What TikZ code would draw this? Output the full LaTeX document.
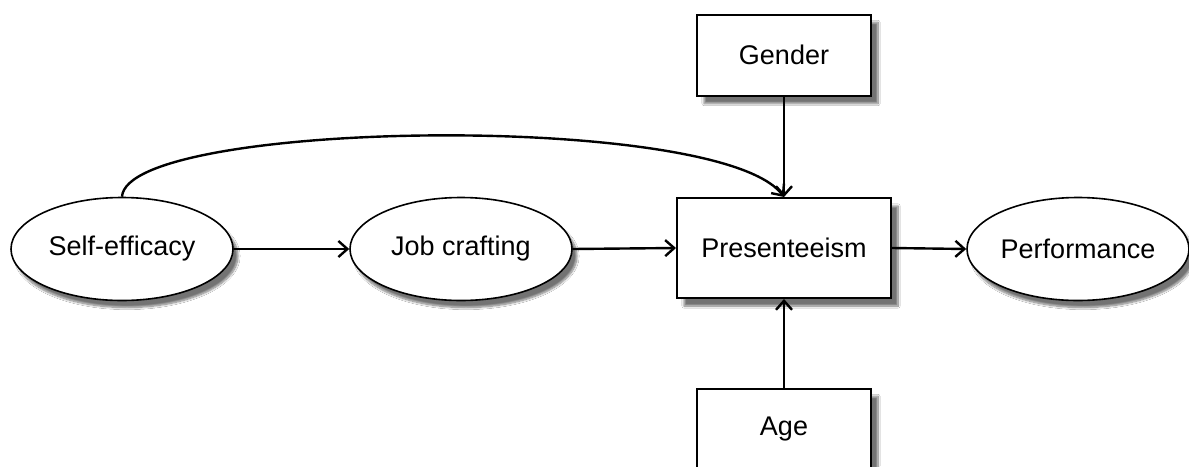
\documentclass[tikz,border=0pt]{standalone}
\usepackage{fontspec}
\setmainfont{Liberation Sans}
\usetikzlibrary{arrows.meta,shadows.blur,shapes.geometric}
\tikzset{
  lbl/.style={font=\fontsize{27}{32}\selectfont},
  ell/.style={lbl,ellipse,draw,line width=1.6pt,fill=white,minimum width=222pt,minimum height=103pt,inner sep=0pt,
    blur shadow={shadow blur steps=10,shadow xshift=5pt,shadow yshift=-7pt,shadow opacity=55}},
  box/.style={lbl,rectangle,draw,line width=2pt,fill=white,minimum width=174pt,minimum height=81pt,inner sep=0pt,
    blur shadow={shadow blur steps=10,shadow xshift=7pt,shadow yshift=-8pt,shadow opacity=55}},
  conn/.style={line width=2.4pt,-{Straight Barb[length=9pt,width=16pt,line width=2.4pt]}}
}
\begin{document}
\begin{tikzpicture}[x=1pt,y=-1pt]
\useasboundingbox (0,0) rectangle (1189,466);
\clip (0,0) rectangle (1189,466);
\fill[white] (0,0) rectangle (1189,466);
\node[ell] (se) at (122,249) {Self-efficacy};
\node[ell] (jc) at (461,249) {Job crafting};
\node[box,minimum width=214pt,minimum height=100pt] (pr) at (784,248) {Presenteeism};
\node[ell] (pf) at (1078,249) {Performance};
\node[box] (ge) at (784,55) {Gender};
\node[box] (ag) at (784,429) {Age};
\draw[conn] (se.east) -- (jc.west);
\draw[conn] (jc.east) -- (pr.west);
\draw[conn] (pr.east) -- (pf.west);
\draw[conn] (ge.south) -- (pr.north);
\draw[conn] (ag.north) -- (pr.south);
\draw[conn] (se.north) .. controls +(5,-77) and +(-64,-86) .. (pr.north);
\end{tikzpicture}
\end{document}
